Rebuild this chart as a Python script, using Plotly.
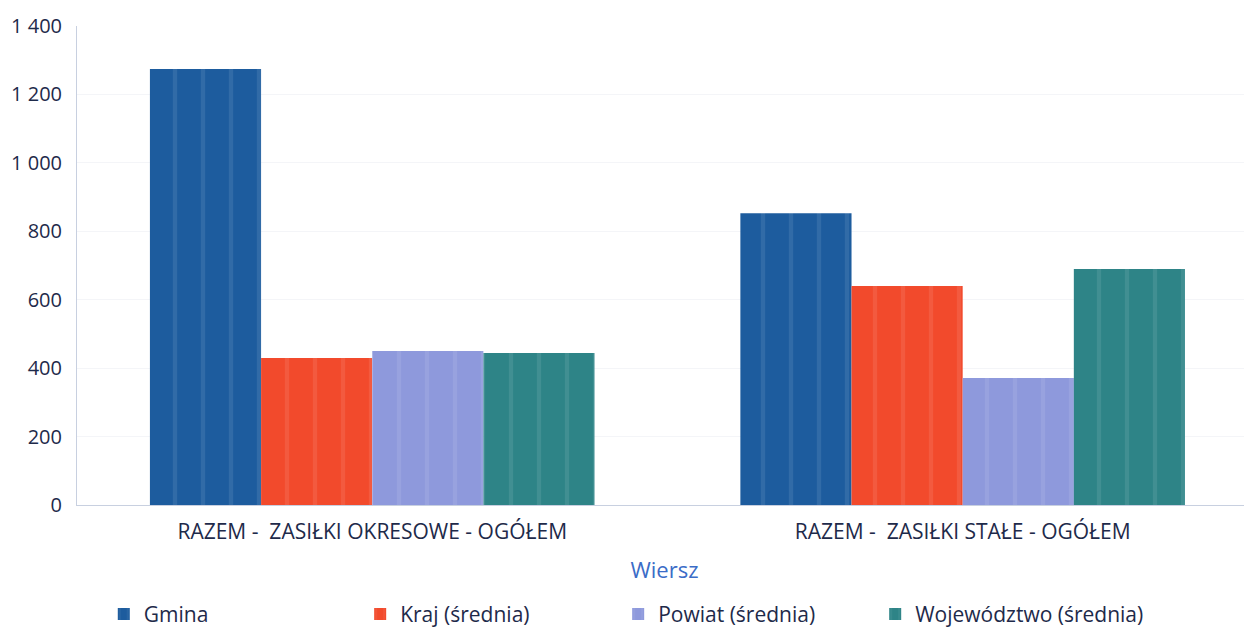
import plotly.graph_objects as go

kategorie = ["RAZEM -  ZASIŁKI OKRESOWE - OGÓŁEM", "RAZEM -  ZASIŁKI STAŁE - OGÓŁEM"]

gmina = [1274, 853]
kraj = [430, 640]
powiat = [450, 371]
wojewodztwo = [444, 690]

serie = [
    ("Gmina", gmina, "#1d5c9e"),
    ("Kraj (średnia)", kraj, "#f24a2c"),
    ("Powiat (średnia)", powiat, "#8e99dc"),
    ("Województwo (średnia)", wojewodztwo, "#2e8487"),
]

# kazda seria ma wlasna legende, zeby ustawic je w rownych odstepach
legendy = ["legend", "legend2", "legend3", "legend4"]
legenda_x = [0.077, 0.2831, 0.4905, 0.6971]

fig = go.Figure()
for (nazwa, wartosci, kolor), lg in zip(serie, legendy):
    fig.add_trace(go.Bar(
        x=kategorie, y=wartosci, name=nazwa, legend=lg,
        marker=dict(color=kolor, line=dict(width=0),
                    pattern=dict(shape="|", fgcolor="rgba(255,255,255,0.18)",
                                 size=28, solidity=0.15)),
    ))

# strona html ma 8 px marginesu, stad rozmiar 1244x625
fig.update_layout(
    width=1244, height=625,
    margin=dict(l=69, r=0, t=18, b=128, autoexpand=False),
    paper_bgcolor="white", plot_bgcolor="white",
    font=dict(family="Open Sans, Noto Sans, sans-serif", size=20, color="#1e2a4a"),
    barmode="group", bargap=0.247, bargroupgap=0,
    showlegend=True,
    separators=". ",
)
for lg, lx in zip(legendy, legenda_x):
    fig.update_layout({lg: dict(orientation="h", xref="container", yref="container",
                                x=lx, y=0.03, xanchor="left", yanchor="middle",
                                font=dict(size=21), itemwidth=30,
                                bgcolor="rgba(0,0,0,0)")})

fig.update_xaxes(
    range=[-0.5, 1.49],
    showline=True, linecolor="#c8d0e0", linewidth=1, automargin=False,
    showgrid=False, ticks="", tickfont=dict(size=21), ticklabelstandoff=8,
    title=dict(text="Wiersz", font=dict(color="#3b6cc7", size=22), standoff=18),
)
fig.update_yaxes(
    range=[0, 1400], dtick=200, tickformat=",d", automargin=False,
    showline=True, linecolor="#c8d0e0", linewidth=1,
    showgrid=True, gridcolor="#f4f5f8", zeroline=False,
    ticks="", tickfont=dict(size=20), ticklabelstandoff=10,
)

fig.write_html("out.html")
